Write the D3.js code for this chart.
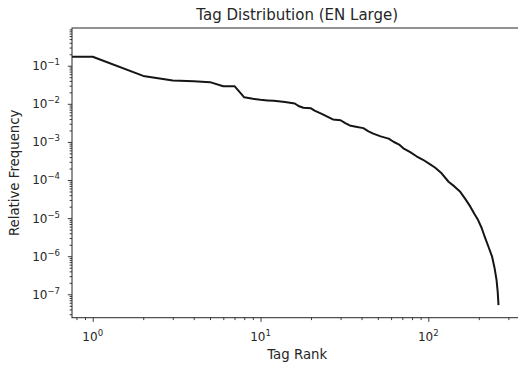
<!DOCTYPE html>
<html>
<head>
<meta charset="utf-8">
<script src="https://cdn.jsdelivr.net/npm/d3@7"></script>
<style>
  body { margin: 0; background: #fff; }
  text { font-family: "DejaVu Sans", sans-serif; fill: #262626; }
</style>
</head>
<body>
<svg id="chart" width="518" height="367"></svg>
<script>
// tag rank (rank 0 is clipped to the left edge like matplotlib does)
const ranks = [0, 1, 2, 3, 4, 5, 6, 7, 8, 9, 10, 11, 12, 14, 16, 17, 18, 20, 21, 23, 25, 27, 30, 32, 34, 37, 41, 44, 47, 52, 58, 62, 67, 71, 78, 85, 93, 101, 110, 120, 132, 143, 155, 166, 178, 188, 198, 208, 217, 228, 240, 248, 255, 259, 262];
// relative frequency
const freqs = [0.172, 0.172, 0.054, 0.041, 0.039, 0.037, 0.029, 0.029, 0.0148, 0.0135, 0.0127, 0.0123, 0.0120, 0.0112, 0.0102, 0.0086, 0.0079, 0.0076, 0.0066, 0.0055, 0.0046, 0.0039, 0.0037, 0.0031, 0.0027, 0.0025, 0.0023, 0.0019, 0.00165, 0.0014, 0.00122, 0.00101, 0.00085, 0.00068, 0.00054, 0.00042, 0.00034, 0.00027, 0.00021, 0.00015, 0.00009, 0.000068, 0.000049, 0.000032, 0.000020, 0.000013, 0.0000089, 0.0000055, 0.0000032, 0.0000018, 0.00000097, 0.0000005, 0.00000024, 0.00000012, 0.000000052];

const xTickExps = [0, 1, 2];
const yTickExps = [-7, -6, -5, -4, -3, -2, -1];
const xDomain = [Math.pow(10, -0.1234), Math.pow(10, 2.5607)];
const yDomain = [Math.pow(10, -7.614), Math.pow(10, -0.01)];

const svg = d3.select("#chart");
const mLeft = 72, mRight = 522.4, mTop = 28, mBottom = 317.7;

const x = d3.scaleLog().domain(xDomain).range([mLeft, mRight]).clamp(true);
const y = d3.scaleLog().domain(yDomain).range([mBottom, mTop]);

// minor ticks for every decade
function minors(lo, hi) {
  const out = [];
  for (let e = lo; e <= hi; e++) {
    for (let k = 2; k <= 9; k++) out.push(k * Math.pow(10, e));
  }
  return out;
}
const xMinor = minors(-1, 2).filter(v => v >= xDomain[0] && v <= xDomain[1]);
const yMinor = minors(-8, -1).filter(v => v >= yDomain[0] && v <= yDomain[1]);

const xAxisMajor = d3.axisBottom(x).tickValues(xTickExps.map(e => Math.pow(10, e))).tickSize(4.2).tickFormat("");
const xAxisMinor = d3.axisBottom(x).tickValues(xMinor).tickSize(2.4).tickFormat("");
const yAxisMajor = d3.axisLeft(y).tickValues(yTickExps.map(e => Math.pow(10, e))).tickSize(4.2).tickFormat("");
const yAxisMinor = d3.axisLeft(y).tickValues(yMinor).tickSize(2.4).tickFormat("");

function styleAxis(g) {
  g.select(".domain").remove();
  g.selectAll("line").attr("stroke", "#262626").attr("stroke-width", 0.9);
}

svg.append("g").attr("transform", `translate(0,${mBottom})`).call(xAxisMinor).call(styleAxis);
svg.append("g").attr("transform", `translate(0,${mBottom})`).call(xAxisMajor).call(styleAxis);
svg.append("g").attr("transform", `translate(${mLeft},0)`).call(yAxisMinor).call(styleAxis);
svg.append("g").attr("transform", `translate(${mLeft},0)`).call(yAxisMajor).call(styleAxis);

// the line
const line = d3.line()
  .x((d, i) => x(ranks[i]))
  .y(d => y(d));

svg.append("path")
  .datum(freqs)
  .attr("d", line)
  .attr("fill", "none")
  .attr("stroke", "#151515")
  .attr("stroke-width", 2)
  .attr("stroke-linejoin", "round");

// spines
svg.append("rect")
  .attr("x", mLeft).attr("y", mTop)
  .attr("width", mRight - mLeft).attr("height", mBottom - mTop)
  .attr("fill", "none").attr("stroke", "#262626").attr("stroke-width", 1);

// tick labels with superscripts
const xl = svg.append("g").attr("font-size", 12).attr("text-anchor", "middle");
xTickExps.forEach(e => {
  const t = xl.append("text").attr("x", x(Math.pow(10, e))).attr("y", 341);
  t.append("tspan").text("10");
  t.append("tspan").attr("font-size", 8.5).attr("dy", -5).text(String(e));
});

const yl = svg.append("g").attr("font-size", 12).attr("text-anchor", "end");
yTickExps.forEach(e => {
  const t = yl.append("text").attr("x", 60).attr("y", y(Math.pow(10, e)) + 4.4);
  t.append("tspan").text("10");
  t.append("tspan").attr("font-size", 8.5).attr("dy", -5).text("\u2212" + Math.abs(e));
});

// titles
svg.append("text")
  .attr("x", (mLeft + mRight) / 2).attr("y", 19.5)
  .attr("text-anchor", "middle").attr("font-size", 15)
  .text("Tag Distribution (EN Large)");

svg.append("text")
  .attr("x", (mLeft + mRight) / 2).attr("y", 358.5)
  .attr("text-anchor", "middle").attr("font-size", 13.3)
  .text("Tag Rank");

svg.append("text")
  .attr("transform", `translate(19,${(mTop + mBottom) / 2}) rotate(-90)`)
  .attr("text-anchor", "middle").attr("font-size", 13.3)
  .text("Relative Frequency");
</script>
</body>
</html>
